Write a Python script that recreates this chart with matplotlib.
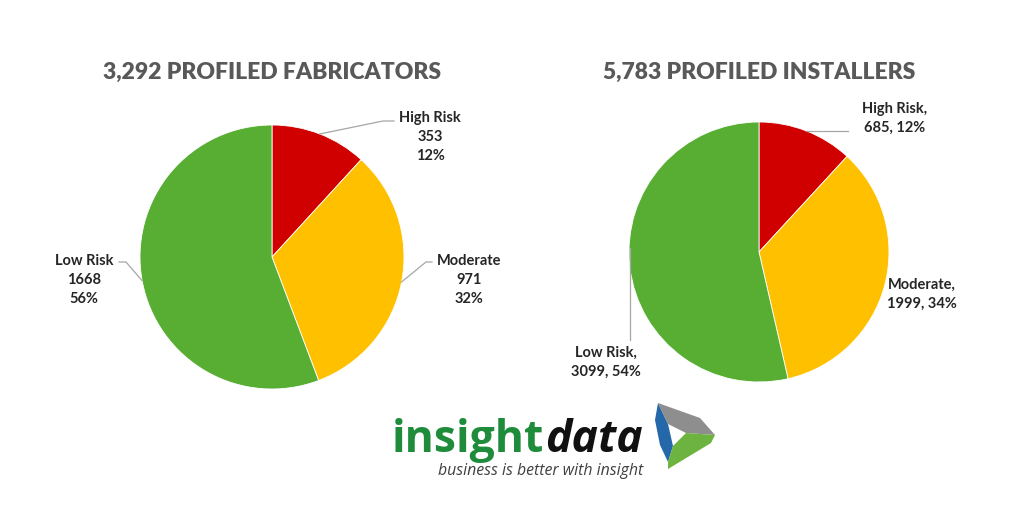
import numpy as np
import matplotlib
matplotlib.use("Agg")
from matplotlib import pyplot as plt
from matplotlib.patches import Polygon

# data
categories = ["High Risk", "Moderate", "Low Risk"]
fab_title = "3,292 PROFILED FABRICATORS"
fab_values = [353, 971, 1668]
fab_pcts = ["12%", "32%", "56%"]
inst_title = "5,783 PROFILED INSTALLERS"
inst_values = [685, 1999, 3099]
inst_pcts = ["12%", "34%", "54%"]
colors = ["#D00000", "#FFC000", "#58AE33"]

H = 512
FONT = "Lato"
TXT = "#262626"


def Y(y):
    # pixel row (from top) -> data y
    return H - y


fig = plt.figure(figsize=(10.24, 5.12), dpi=100)
ax = fig.add_axes([0, 0, 1, 1])


def draw_pie(values, cx, cy, r):
    wedges, _ = ax.pie(values, colors=colors, startangle=90, counterclock=False,
                       center=(cx, Y(cy)), radius=r, frame=True,
                       wedgeprops=dict(linewidth=0.6, edgecolor="white"))
    edge_pts = []
    for w in wedges:
        mid = np.deg2rad((w.theta1 + w.theta2) / 2)
        edge_pts.append((cx + r * np.cos(mid), Y(cy) + r * np.sin(mid)))
    return edge_pts


def leader(pts):
    xs, ys = zip(*pts)
    ax.plot(xs, ys, color="#A6A6A6", lw=0.9, zorder=1)


# left pie
pts = draw_pie(fab_values, 272, 257, 132)
ax.text(272, Y(72), fab_title, ha="center", va="center", fontsize=16.5,
        fontweight="heavy", color="#595959", family=FONT)
leader([pts[0], (383, Y(121)), (394, Y(121))])
leader([pts[1], (426, Y(262)), (432, Y(262))])
leader([pts[2], (126, Y(262)), (119, Y(262))])
lab_pos = [(430, 137), (469, 280), (84, 280)]
for cat, v, p, (x, y) in zip(categories, fab_values, fab_pcts, lab_pos):
    ax.text(x, Y(y), f"{cat}\n{v}\n{p}", ha="center", va="center",
            fontsize=10.5, fontweight="bold", color=TXT, family=FONT,
            linespacing=1.45)

# right pie
pts = draw_pie(inst_values, 759, 252, 130)
ax.text(759, Y(72), inst_title, ha="center", va="center", fontsize=16.5,
        fontweight="heavy", color="#595959", family=FONT)
leader([pts[0], (848, pts[0][1])])
leader([(630, Y(248)), (630, Y(340))])
lab_pos = [(895, 118), (922, 294), (606, 362)]
for cat, v, p, (x, y) in zip(categories, inst_values, inst_pcts, lab_pos):
    ax.text(x, Y(y), f"{cat},\n{v}, {p}", ha="center", va="center",
            fontsize=10.5, fontweight="bold", color=TXT, family=FONT,
            linespacing=1.45)

ax.set_xlim(0, 1024)
ax.set_ylim(0, H)
ax.set_aspect("equal")
ax.axis("off")

# logo
LOGO_FONT = "Open Sans"
r = fig.canvas.get_renderer()
t1 = ax.text(392, Y(452), "insight", ha="left", va="baseline", fontsize=30,
             fontweight="bold", color="#1E8C3A", family=LOGO_FONT)
t2 = ax.text(0, Y(452), "data", ha="left", va="baseline", fontsize=30,
             fontweight="bold", style="italic", color="#111111",
             family=LOGO_FONT)
total = t1.get_window_extent(r).width + t2.get_window_extent(r).width
fs = 30 * 250 / total
t1.set_fontsize(fs)
t2.set_fontsize(fs)
t2.set_x(392 + t1.get_window_extent(r).width + 1)
ax.text(438, Y(471), "business is better with insight", ha="left", va="center",
        fontsize=11.4, style="italic", color="#404040", family=LOGO_FONT)

A, B, C = (658, Y(403)), (715, Y(435)), (668, Y(469))
a, b, c = (668, Y(424)), (686, Y(433)), (673, Y(446))
ax.add_patch(Polygon([A, a, c, (668, Y(462)), (660, Y(445)), (655, Y(420))],
                     closed=True, color="#2468AA", lw=0))
ax.add_patch(Polygon([A, (700, Y(418)), B, b, a], closed=True,
                     color="#8E8E8E", lw=0))
ax.add_patch(Polygon([b, B, (711, Y(443)), C, (668, Y(462)), c], closed=True,
                     color="#6DB33F", lw=0))

fig.savefig("out.png", dpi=100, facecolor="white")
